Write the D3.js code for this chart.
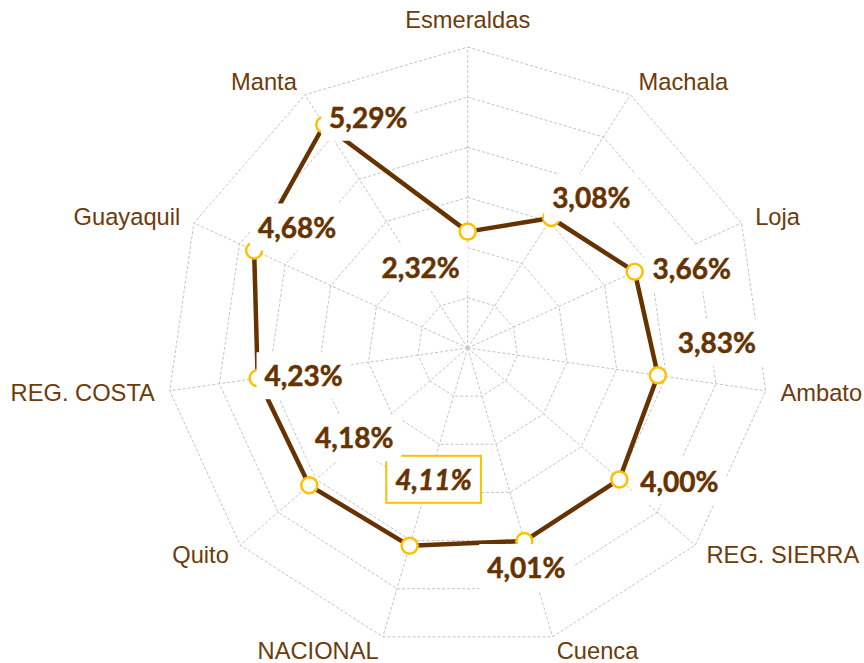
<!DOCTYPE html>
<html>
<head>
<meta charset="utf-8">
<script src="https://cdn.jsdelivr.net/npm/d3@7"></script>
<style>
    html, body { margin: 0; padding: 0; background: #fff; }
</style>
</head>
<body>
<div id="chart"></div>
<script>
// Data
const cities = ['Esmeraldas', 'Machala', 'Loja', 'Ambato', 'REG. SIERRA', 'Cuenca', 'NACIONAL', 'Quito', 'REG. COSTA', 'Guayaquil', 'Manta'];
const rates = [2.32, 3.08, 3.66, 3.83, 4.00, 4.01, 4.11, 4.18, 4.23, 4.68, 5.29];
const ringTicks = [1, 2, 3, 4, 5, 6];
const highlighted = 'NACIONAL';

// where each value label sits, relative to its marker (px)
const labelNudge = [[-47, 36], [40, -20], [57, -3], [59, -32], [60, 2], [2, 27], [24, -66], [45, -47], [46, -2], [43, -23], [44, -7]];

function draw() {
    // Dimensions
    const dimensions = {
        width: 864,
        height: 663,
        cx: 467.7,
        cy: 348,
        radius: 301,
        labelRadius: 316,
    };

    const svg = d3
        .select('#chart')
        .append('svg')
        .attr('width', dimensions.width)
        .attr('height', dimensions.height)
        ;

    const ctr = svg
        .append('g')
        .attr('transform', `translate(${dimensions.cx}, ${dimensions.cy})`)
        ;

    // Scales
    const angleScale = d3
        .scalePoint()
        .domain(cities)
        .range([0, 2 * Math.PI * (cities.length - 1) / cities.length])
        ;

    const rScale = d3
        .scaleLinear()
        .domain([0, d3.max(ringTicks)])
        .range([0, dimensions.radius])
        ;

    const px = (a, r) => r * Math.sin(a);
    const py = (a, r) => -r * Math.cos(a);

    const locale = d3.formatLocale({ decimal: ',', thousands: '.', grouping: [3], currency: ['$', ''] });
    const fmt = locale.format('.2f');

    // Grid
    const grid = ctr.append('g')
        .attr('fill', 'none')
        .attr('stroke', '#c4c4c4')
        .attr('stroke-width', 1)
        .attr('stroke-dasharray', '3,2')
        ;

    grid.selectAll('path.ring')
        .data(ringTicks)
        .join('path')
        .attr('class', 'ring')
        .attr('d', t => d3.lineRadial()
            .angle(c => angleScale(c))
            .radius(rScale(t))
            .curve(d3.curveLinearClosed)(cities))
        ;

    grid.selectAll('line.spoke')
        .data(cities)
        .join('line')
        .attr('class', 'spoke')
        .attr('x1', 0)
        .attr('y1', 0)
        .attr('x2', c => px(angleScale(c), rScale(d3.max(ringTicks))))
        .attr('y2', c => py(angleScale(c), rScale(d3.max(ringTicks))))
        ;

    // Axis labels
    ctr.append('g')
        .selectAll('text')
        .data(cities)
        .join('text')
        .attr('x', c => px(angleScale(c), dimensions.labelRadius))
        .attr('y', c => {
            const a = angleScale(c);
            return Math.abs(Math.sin(a)) < 0.1
                ? py(a, dimensions.labelRadius + 12)
                : py(a, dimensions.labelRadius);
        })
        .attr('dy', '0.35em')
        .attr('text-anchor', c => {
            const s = Math.sin(angleScale(c));
            return s > 0.1 ? 'start' : s < -0.1 ? 'end' : 'middle';
        })
        .style('font-family', '"Liberation Sans", Arial, sans-serif')
        .style('font-size', '23.7px')
        .attr('fill', '#6e3b0b')
        .text(c => c)
        ;

    // Series line
    ctr.append('path')
        .datum(rates)
        .attr('fill', 'none')
        .attr('stroke', '#663300')
        .attr('stroke-width', 4.5)
        .attr('stroke-linejoin', 'round')
        .attr('d', d3.lineRadial()
            .angle((d, i) => angleScale(cities[i]))
            .radius(d => rScale(d))
            .curve(d3.curveLinearClosed))
        ;

    // Markers
    ctr.append('g')
        .selectAll('circle')
        .data(rates)
        .join('circle')
        .attr('cx', (d, i) => px(angleScale(cities[i]), rScale(d)))
        .attr('cy', (d, i) => py(angleScale(cities[i]), rScale(d)))
        .attr('r', 8)
        .attr('fill', '#fff')
        .attr('stroke', '#ffc000')
        .attr('stroke-width', 2.5)
        ;

    // Value labels with white boxes
    const labels = ctr.append('g')
        .selectAll('g')
        .data(rates)
        .join('g')
        .attr('transform', (d, i) => {
            const a = angleScale(cities[i]);
            const x = px(a, rScale(d)) + labelNudge[i][0];
            const y = py(a, rScale(d)) + labelNudge[i][1];
            return `translate(${x}, ${y})`;
        })
        ;

    labels.append('text')
        .attr('text-anchor', 'middle')
        .attr('dy', '0.36em')
        .style('font-family', 'Lato, "Open Sans", sans-serif')
        .style('font-size', '28px')
        .style('font-weight', 700)
        .style('font-style', (d, i) => cities[i] === highlighted ? 'italic' : 'normal')
        .attr('fill', '#663300')
        .attr('stroke', '#663300')
        .attr('stroke-width', 0.5)
        .text(d => fmt(d) + '%')
        ;

    labels.each(function (d, i) {
        const g = d3.select(this);
        const w = g.select('text').node().getBBox().width;
        const isHi = cities[i] === highlighted;
        const padX = isHi ? 9 : 8;
        g.insert('rect', 'text')
            .attr('x', -w / 2 - padX)
            .attr('y', -24)
            .attr('width', w + 2 * padX)
            .attr('height', 47)
            .attr('fill', '#fff')
            .attr('stroke', isHi ? '#ffc000' : 'none')
            .attr('stroke-width', 2)
            ;
    });
}

draw();
</script>
</body>
</html>
